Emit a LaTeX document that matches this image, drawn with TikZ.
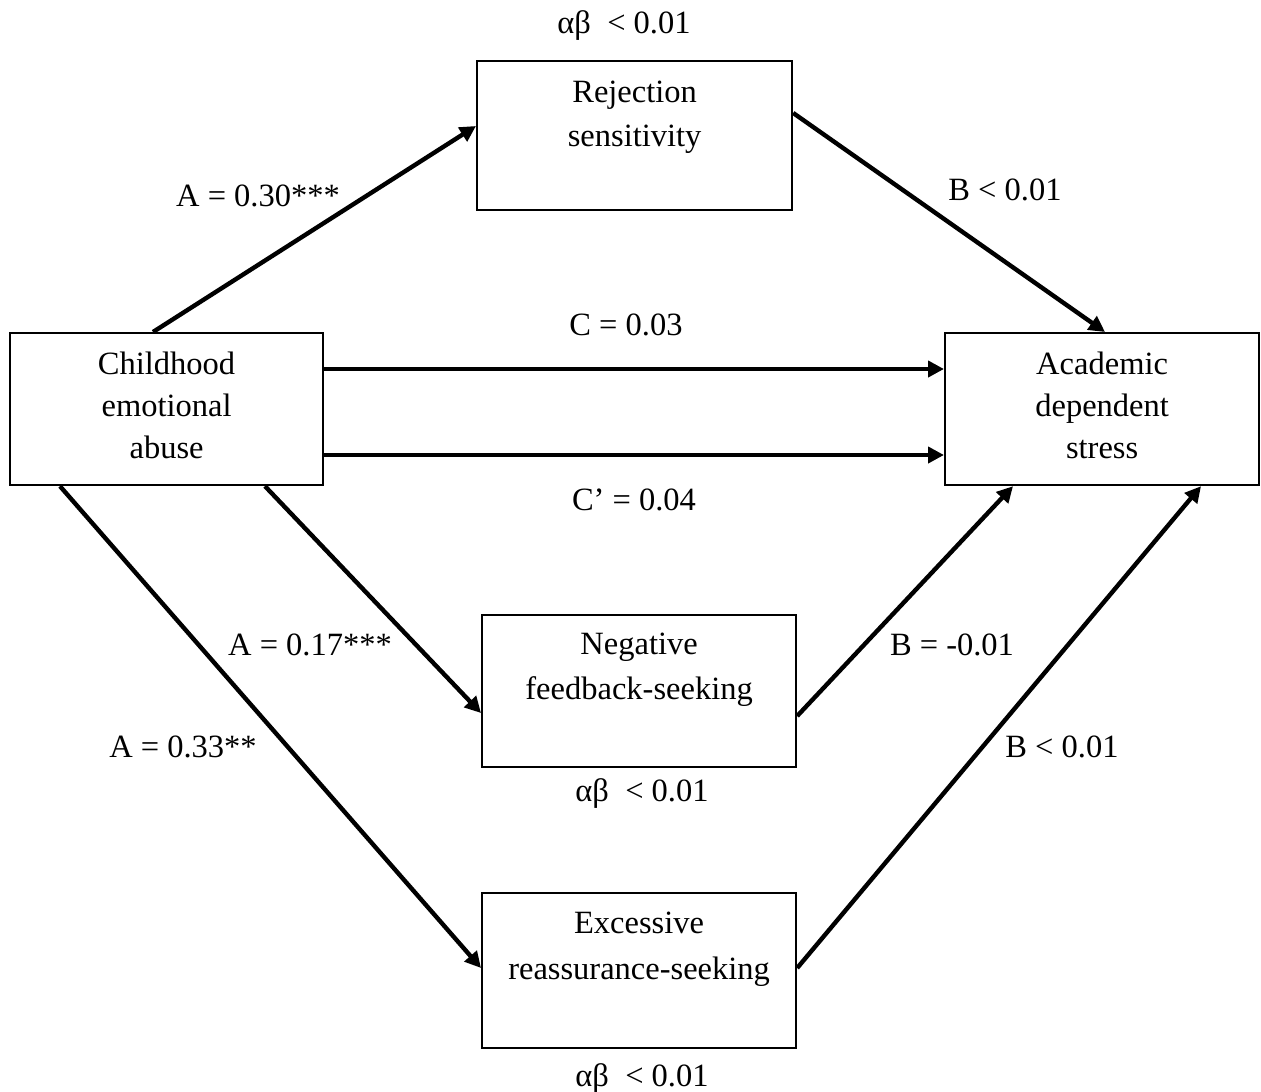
\documentclass[tikz,border=0pt]{standalone}
\usepackage{fontspec}
\setmainfont{Liberation Serif}
\usetikzlibrary{arrows.meta,calc}
\newcommand{\fsz}{\fontsize{32.5}{44}\selectfont}
\tikzset{
  box/.style={draw, line width=2.2pt, inner sep=0pt, font=\fsz, anchor=north west},
  arr/.style={line width=4.4pt, -{Triangle[length=16pt,width=16pt]}},
  lab/.style={font=\fsz, anchor=base, inner sep=0pt}
}
\begin{document}
\begin{tikzpicture}[x=1pt,y=-1pt]
\useasboundingbox (0,0) rectangle (1261,1092);
% boxes
\node[box] (rej) at (476,60) {\parbox[c][149pt][t]{315pt}{\centering\rule{0pt}{41pt}Rejection\\sensitivity}};
\node[box] (ch) at (9,332) {\parbox[c][152pt][t]{313pt}{\centering\rule{0pt}{41pt}Childhood\\[-1.7pt]emotional\\[-1.7pt]abuse}};
\node[box] (ac) at (944,332) {\parbox[c][152pt][t]{314pt}{\centering\rule{0pt}{41pt}Academic\\[-1.7pt]dependent\\[-1.7pt]stress}};
\node[box] (neg) at (481,614) {\parbox[c][152pt][t]{314pt}{\centering\rule{0pt}{39pt}Negative\\[1pt]feedback-seeking}};
\node[box] (exc) at (481,892) {\parbox[c][155pt][t]{314pt}{\centering\rule{0pt}{40pt}Excessive\\[2pt]reassurance-seeking}};
% connector end points
\coordinate (a1s) at ([xshift=144pt]ch.north west);
\coordinate (a1e) at ([yshift=-66pt]rej.north west);
\coordinate (b1s) at ([yshift=-53pt]rej.north east);
\coordinate (b1e) at ([xshift=161pt]ac.north west);
\coordinate (cs) at ([yshift=-37pt]ch.north east);
\coordinate (cps) at ([yshift=-123pt]ch.north east);
\coordinate (a2s) at ([xshift=256pt]ch.south west);
\coordinate (a2e) at ([yshift=-99pt]neg.north west);
\coordinate (b2s) at ([yshift=-102pt]neg.north east);
\coordinate (b2e) at ([xshift=69pt]ac.south west);
\coordinate (a3s) at ([xshift=51pt]ch.south west);
\coordinate (a3e) at ([yshift=-76pt]exc.north west);
\coordinate (b3s) at ([yshift=-76pt]exc.north east);
\coordinate (b3e) at ([xshift=257pt]ac.south west);
% connectors
\draw[arr] (a1s) -- (a1e);
\draw[arr] (b1s) -- (b1e);
\draw[arr] (cs) -- (cs -| ac.west);
\draw[arr] (cps) -- (cps -| ac.west);
\draw[arr] (a2s) -- (a2e);
\draw[arr] (b2s) -- (b2e);
\draw[arr] (a3s) -- (a3e);
\draw[arr] (b3s) -- (b3e);
% labels
\node[lab] (ab1) at (624,33) {αβ\ \ < 0.01};
\node[lab] (la1) at (258,206) {A = 0.30***};
\node[lab] (lb1) at (1005,200) {B < 0.01};
\node[lab] (lc) at (626,335) {C = 0.03};
\node[lab] (lcp) at (634,510) {C’ = 0.04};
\node[lab] (la2) at (310,655) {A = 0.17***};
\node[lab] (lb2) at (952,655) {B = -0.01};
\node[lab] (la3) at (183,757) {A = 0.33**};
\node[lab] (lb3) at (1062,757) {B < 0.01};
\node[lab] (ab2) at (642,801) {αβ\ \ < 0.01};
\node[lab] (ab3) at (642,1086) {αβ\ \ < 0.01};
\end{tikzpicture}
\end{document}
